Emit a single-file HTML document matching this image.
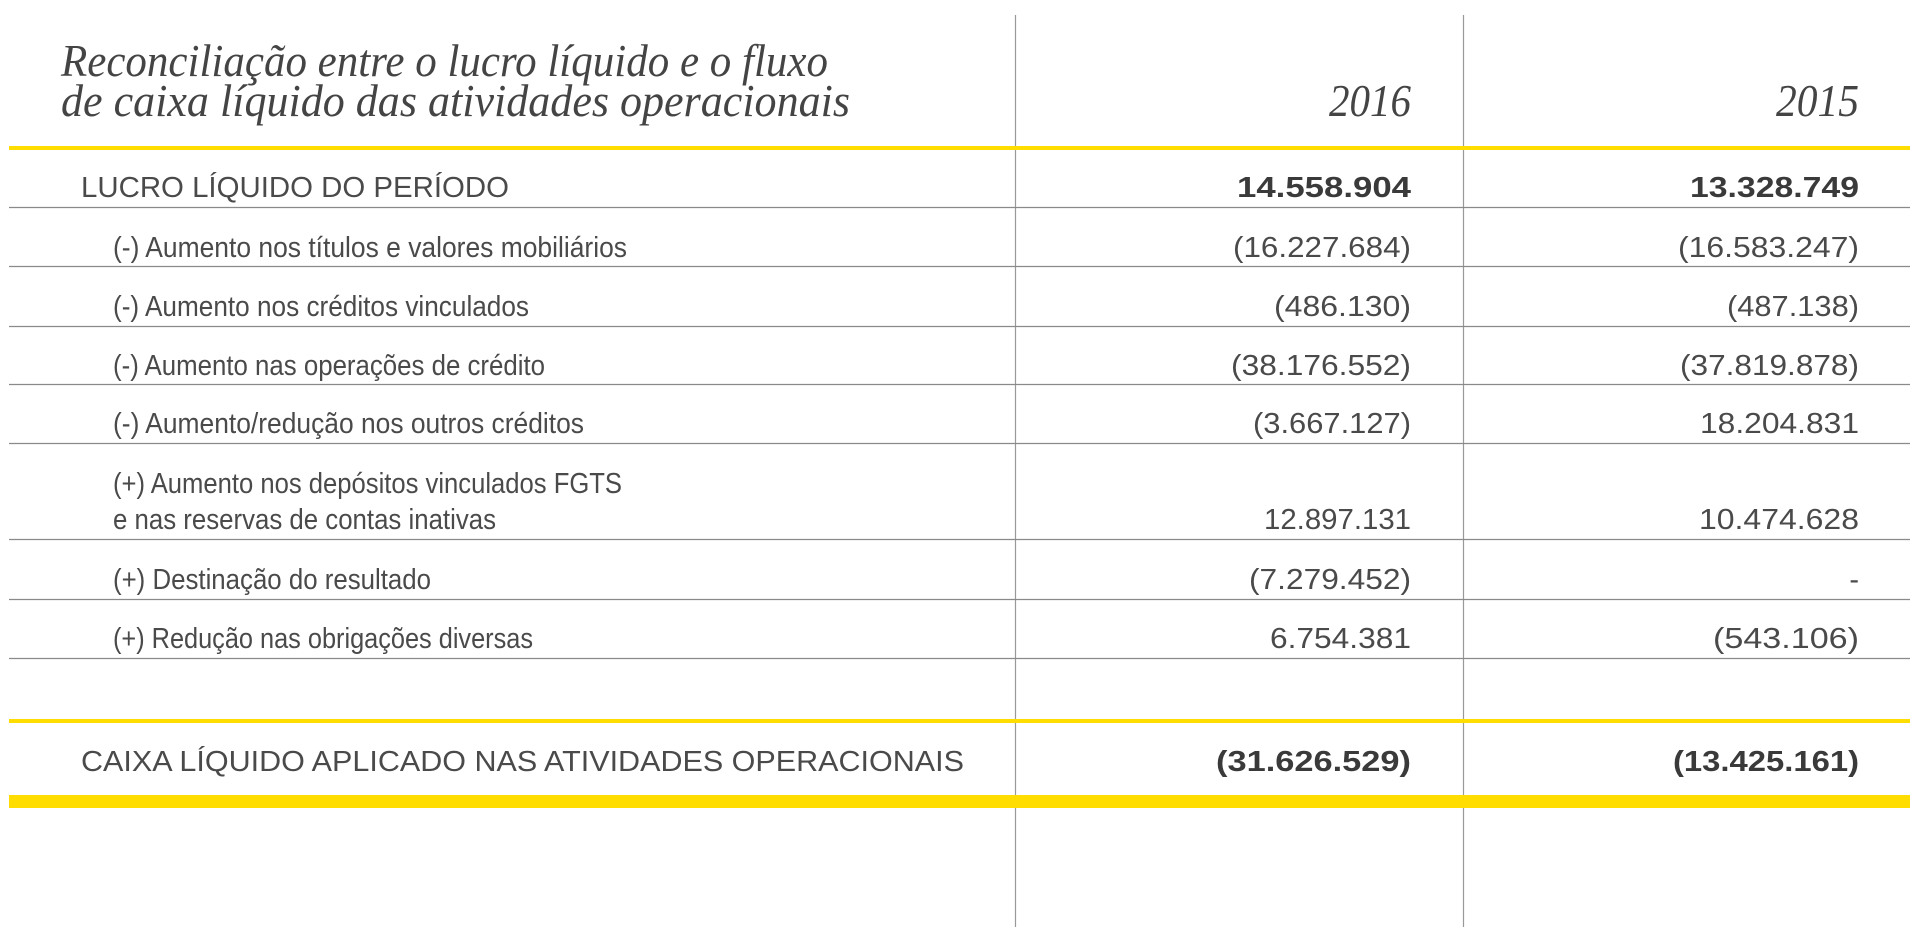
<!DOCTYPE html>
<html><head><meta charset="utf-8"><style>
html,body{margin:0;padding:0;background:#fff;width:1920px;height:939px;overflow:hidden}
svg{display:block}
.t{font-family:"Liberation Serif",serif;font-style:italic;font-size:46px;fill:#444}
.s{font-family:"Liberation Sans Narrow","Liberation Sans",sans-serif;font-size:29px;fill:#4a4a4a}
.b{font-family:"Liberation Sans Narrow","Liberation Sans",sans-serif;font-size:29px;font-weight:bold;fill:#3a3a3a}
</style></head><body>
<svg width="1920" height="939" viewBox="0 0 1920 939" xmlns="http://www.w3.org/2000/svg">
<g stroke="#999" stroke-width="1.2">
<line x1="1015.5" y1="15" x2="1015.5" y2="927"/>
<line x1="1463.5" y1="15" x2="1463.5" y2="927"/>
</g>
<g stroke="#8a8a8a" stroke-width="1.3">
<line x1="9" y1="207.5" x2="1910" y2="207.5"/>
<line x1="9" y1="266.5" x2="1910" y2="266.5"/>
<line x1="9" y1="326.5" x2="1910" y2="326.5"/>
<line x1="9" y1="384.5" x2="1910" y2="384.5"/>
<line x1="9" y1="443.5" x2="1910" y2="443.5"/>
<line x1="9" y1="539.5" x2="1910" y2="539.5"/>
<line x1="9" y1="599.5" x2="1910" y2="599.5"/>
<line x1="9" y1="658.5" x2="1910" y2="658.5"/>
</g>
<rect x="9" y="146" width="1901" height="4" fill="#ffdd00"/>
<rect x="9" y="719" width="1901" height="4" fill="#ffdd00"/>
<rect x="9" y="795" width="1901" height="13" fill="#ffdd00"/>

<text class="t" x="61" y="76" textLength="767" lengthAdjust="spacingAndGlyphs">Reconciliação entre o lucro líquido e o fluxo</text>
<text class="t" x="61" y="116" textLength="789" lengthAdjust="spacingAndGlyphs">de caixa líquido das atividades operacionais</text>
<text class="t" x="1411" y="116" text-anchor="end" textLength="82" lengthAdjust="spacingAndGlyphs">2016</text>
<text class="t" x="1859" y="116" text-anchor="end" textLength="83" lengthAdjust="spacingAndGlyphs">2015</text>

<text class="s" x="81" y="197" textLength="428" lengthAdjust="spacingAndGlyphs">LUCRO LÍQUIDO DO PERÍODO</text>
<text class="b" x="1411" y="197" text-anchor="end" textLength="174" lengthAdjust="spacingAndGlyphs">14.558.904</text>
<text class="b" x="1859" y="197" text-anchor="end" textLength="169" lengthAdjust="spacingAndGlyphs">13.328.749</text>

<text class="s" x="113" y="257" textLength="514" lengthAdjust="spacingAndGlyphs">(-) Aumento nos títulos e valores mobiliários</text>
<text class="s" x="1411" y="257" text-anchor="end" textLength="178" lengthAdjust="spacingAndGlyphs">(16.227.684)</text>
<text class="s" x="1859" y="257" text-anchor="end" textLength="181" lengthAdjust="spacingAndGlyphs">(16.583.247)</text>

<text class="s" x="113" y="316" textLength="416" lengthAdjust="spacingAndGlyphs">(-) Aumento nos créditos vinculados</text>
<text class="s" x="1411" y="316" text-anchor="end" textLength="137" lengthAdjust="spacingAndGlyphs">(486.130)</text>
<text class="s" x="1859" y="316" text-anchor="end" textLength="132" lengthAdjust="spacingAndGlyphs">(487.138)</text>

<text class="s" x="113" y="375" textLength="432" lengthAdjust="spacingAndGlyphs">(-) Aumento nas operações de crédito</text>
<text class="s" x="1411" y="375" text-anchor="end" textLength="180" lengthAdjust="spacingAndGlyphs">(38.176.552)</text>
<text class="s" x="1859" y="375" text-anchor="end" textLength="179" lengthAdjust="spacingAndGlyphs">(37.819.878)</text>

<text class="s" x="113" y="433" textLength="471" lengthAdjust="spacingAndGlyphs">(-) Aumento/redução nos outros créditos</text>
<text class="s" x="1411" y="433" text-anchor="end" textLength="158" lengthAdjust="spacingAndGlyphs">(3.667.127)</text>
<text class="s" x="1859" y="433" text-anchor="end" textLength="159" lengthAdjust="spacingAndGlyphs">18.204.831</text>

<text class="s" x="113" y="493" textLength="509" lengthAdjust="spacingAndGlyphs">(+) Aumento nos depósitos vinculados FGTS</text>
<text class="s" x="113" y="529" textLength="383" lengthAdjust="spacingAndGlyphs">e nas reservas de contas inativas</text>
<text class="s" x="1411" y="529" text-anchor="end" textLength="147" lengthAdjust="spacingAndGlyphs">12.897.131</text>
<text class="s" x="1859" y="529" text-anchor="end" textLength="160" lengthAdjust="spacingAndGlyphs">10.474.628</text>

<text class="s" x="113" y="589" textLength="318" lengthAdjust="spacingAndGlyphs">(+) Destinação do resultado</text>
<text class="s" x="1411" y="589" text-anchor="end" textLength="162" lengthAdjust="spacingAndGlyphs">(7.279.452)</text>
<text class="s" x="1859" y="589" text-anchor="end">-</text>

<text class="s" x="113" y="648" textLength="420" lengthAdjust="spacingAndGlyphs">(+) Redução nas obrigações diversas</text>
<text class="s" x="1411" y="648" text-anchor="end" textLength="141" lengthAdjust="spacingAndGlyphs">6.754.381</text>
<text class="s" x="1859" y="648" text-anchor="end" textLength="146" lengthAdjust="spacingAndGlyphs">(543.106)</text>

<text class="s" x="81" y="771" textLength="883" lengthAdjust="spacingAndGlyphs">CAIXA LÍQUIDO APLICADO NAS ATIVIDADES OPERACIONAIS</text>
<text class="b" x="1411" y="771" text-anchor="end" textLength="195" lengthAdjust="spacingAndGlyphs">(31.626.529)</text>
<text class="b" x="1859" y="771" text-anchor="end" textLength="186" lengthAdjust="spacingAndGlyphs">(13.425.161)</text>
</svg>
</body></html>
